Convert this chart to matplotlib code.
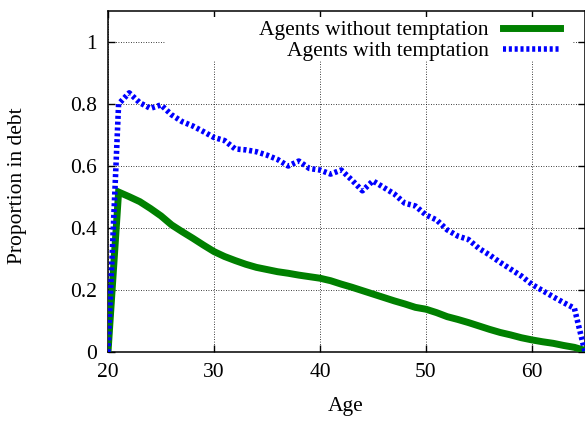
import matplotlib
matplotlib.use("Agg")
import matplotlib.pyplot as plt
from matplotlib.patches import Rectangle
from matplotlib.ticker import FormatStrFormatter

ages = list(range(20, 66))

without_temptation = [
    0.0, 0.516, 0.501, 0.485, 0.463, 0.439, 0.410, 0.388, 0.367, 0.345,
    0.324, 0.308, 0.295, 0.283, 0.273, 0.266, 0.259, 0.254, 0.248, 0.243,
    0.238, 0.230, 0.219, 0.209, 0.198, 0.187, 0.176, 0.165, 0.155, 0.144,
    0.138, 0.127, 0.114, 0.105, 0.095, 0.084, 0.073, 0.063, 0.055, 0.046,
    0.039, 0.033, 0.028, 0.021, 0.015, 0.005,
]

with_temptation = [
    0.0, 0.800, 0.836, 0.804, 0.786, 0.797, 0.765, 0.743, 0.729, 0.711,
    0.692, 0.682, 0.655, 0.652, 0.646, 0.635, 0.621, 0.600, 0.616, 0.592,
    0.587, 0.574, 0.587, 0.555, 0.520, 0.552, 0.531, 0.510, 0.480, 0.471,
    0.442, 0.426, 0.394, 0.374, 0.363, 0.334, 0.313, 0.289, 0.267, 0.245,
    0.218, 0.198, 0.178, 0.159, 0.141, 0.0,
]

x_ticks = [20, 30, 40, 50, 60]
y_ticks = [0, 0.2, 0.4, 0.6, 0.8, 1]

plt.rcParams["font.family"] = ["Liberation Serif", "DejaVu Serif"]
fs = 15.5

fig = plt.figure(figsize=(5.85, 4.21), dpi=100)
ax = fig.add_axes([108 / 585, 1 - 352 / 421, 477 / 585, 341 / 421])

ax.plot(ages, without_temptation, color="#008000", lw=5.0,
        solid_joinstyle="miter", label="Agents without temptation", zorder=3)
ax.plot(ages, with_temptation, color="#0000ff", lw=4.0, dashes=(0.55, 0.5),
        dash_capstyle="butt", label="Agents with temptation", zorder=4)

ax.set_xlim(20, 65)
ax.set_ylim(0, 1.1)
ax.set_xticks(x_ticks)
ax.set_yticks(y_ticks)
ax.yaxis.set_major_formatter(FormatStrFormatter("%g"))
ax.tick_params(direction="in", length=5, width=1, top=True, right=True,
               labelsize=fs, pad=8)
ax.set_axisbelow(True)
ax.grid(True, color="black", linestyle=(0, (1, 2)), linewidth=0.6)
for sp in ax.spines.values():
    sp.set_linewidth(1.1)

# white key box covering the grid, as gnuplot does
x0 = (166 - 108) / 477
x1 = (573 - 108) / 477
y0 = (352 - 61) / 341
y1 = (352 - 17) / 341
ax.add_patch(Rectangle((x0, y0), x1 - x0, y1 - y0, transform=ax.transAxes,
                       facecolor="white", edgecolor="none", zorder=2))

leg = ax.legend(loc="upper right", bbox_to_anchor=((560 - 108) / 477, (352 - 20) / 341),
                frameon=False, markerfirst=False, fontsize=fs, borderpad=0,
                handlelength=2.65, handletextpad=0.65, labelspacing=0.05,
                borderaxespad=0)
leg.set_zorder(5)

fig.text(18 / 585, 1 - 186 / 421, "Proportion in debt", rotation=90,
         ha="center", va="center", fontsize=fs)
fig.text(346 / 585, 1 - 406 / 421, "Age", ha="center", va="center", fontsize=fs)

fig.savefig("out.png", dpi=100)
